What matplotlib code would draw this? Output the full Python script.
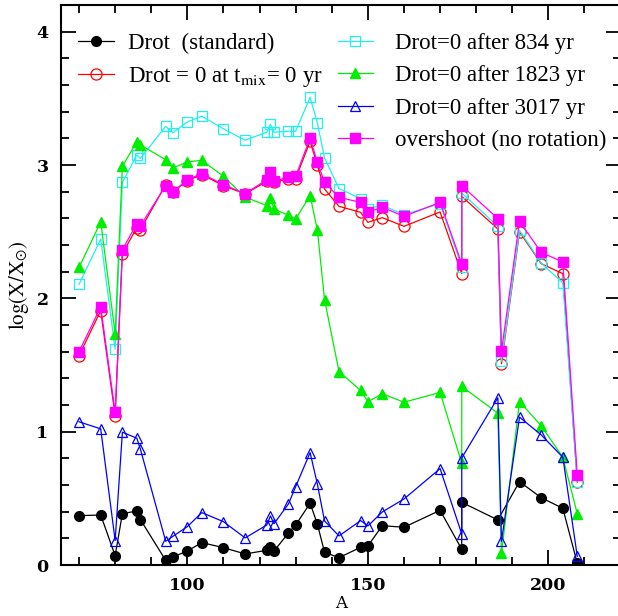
import numpy as np
import matplotlib
matplotlib.use('Agg')
import matplotlib.pyplot as plt
from matplotlib.ticker import MultipleLocator

plt.rcParams['mathtext.fontset'] = 'stix'

# mass numbers (s-only isotopes + Pb)
A = [70, 76, 80, 82, 86, 87, 94, 96, 100, 104, 110, 116, 122, 123, 124, 128, 130,
     134, 136, 138, 142, 148, 150, 154, 160, 170, 176, 176, 186, 187, 192, 198, 204, 208]
# standard run has no 187 point
A_std = [a for i, a in enumerate(A) if i != 29]

drot_std = [0.37, 0.375, 0.07, 0.385, 0.405, 0.34, 0.035, 0.06, 0.105, 0.168, 0.13, 0.083,
            0.11, 0.138, 0.105, 0.24, 0.30, 0.463, 0.308, 0.095, 0.055, 0.133, 0.143, 0.295,
            0.283, 0.41, 0.118, 0.47, 0.338, 0.625, 0.505, 0.425, 0.013]
drot_t0 = [1.571, 1.907, 1.119, 2.335, 2.53, 2.515, 2.853, 2.798, 2.883, 2.928, 2.845, 2.783,
           2.878, 2.90, 2.870, 2.898, 2.898, 3.178, 2.998, 2.82, 2.69, 2.645, 2.57, 2.605,
           2.54, 2.648, 2.185, 2.765, 2.52, 1.509, 2.498, 2.26, 2.185, 0.621]
drot_834 = [2.105, 2.445, 1.619, 2.87, 3.075, 3.05, 3.29, 3.241, 3.323, 3.366, 3.271, 3.186,
            3.246, 3.305, 3.246, 3.253, 3.253, 3.508, 3.316, 3.053, 2.823, 2.748, 2.673, 2.698,
            2.628, 2.71, 2.235, 2.79, 2.54, 1.527, 2.51, 2.265, 2.115, 0.626]
drot_1823 = [2.232, 2.573, 1.734, 2.99, 3.175, 3.15, 3.04, 2.978, 3.023, 3.035, 2.915, 2.76,
             2.695, 2.753, 2.67, 2.623, 2.595, 2.77, 2.515, 1.99, 1.451, 1.309, 1.224, 1.284,
             1.221, 1.294, 0.763, 1.339, 1.139, 0.088, 1.226, 1.044, 0.808, 0.383]
drot_3017 = [1.074, 1.021, 0.183, 0.996, 0.951, 0.868, 0.178, 0.215, 0.288, 0.393, 0.325, 0.203,
             0.30, 0.368, 0.31, 0.458, 0.588, 0.843, 0.608, 0.33, 0.218, 0.333, 0.293, 0.398,
             0.495, 0.723, 0.233, 0.803, 1.254, 0.178, 1.109, 0.976, 0.808, 0.065]
overshoot = [1.601, 1.935, 1.144, 2.365, 2.56, 2.545, 2.845, 2.798, 2.89, 2.935, 2.853, 2.785,
             2.89, 2.945, 2.878, 2.908, 2.915, 3.203, 3.02, 2.87, 2.757, 2.72, 2.645, 2.683,
             2.615, 2.72, 2.26, 2.845, 2.598, 1.602, 2.578, 2.345, 2.272, 0.676]

fig = plt.figure(figsize=(6.18, 6.16), dpi=100)
ax = fig.add_axes([61 / 618, 51 / 616, 559.6 / 618, 560 / 616])

lw = 0.9
l1, = ax.plot(A_std, drot_std, '-o', color='black', lw=lw, ms=7, mfc='black', mec='black')
l2, = ax.plot(A, drot_t0, '-o', color='red', lw=lw, ms=8, mfc='none', mec='red', mew=0.9)
l3, = ax.plot(A, drot_834, '-s', color='#20f0f0', lw=lw, ms=6.5, mfc='none', mec='#20f0f0', mew=0.9)
l4, = ax.plot(A, drot_1823, '-^', color='#00ee00', lw=lw, ms=7, mfc='#00ee00', mec='#00ee00')
l5, = ax.plot(A, drot_3017, '-^', color='blue', lw=lw, ms=7, mfc='none', mec='blue', mew=0.9)
l6, = ax.plot(A, overshoot, '-s', color='magenta', lw=lw, ms=6.5, mfc='magenta', mec='magenta')

ax.set_xlim(65, 220)
ax.set_ylim(0, 4.2)
ax.xaxis.set_major_locator(MultipleLocator(50))
ax.xaxis.set_minor_locator(MultipleLocator(10))
ax.yaxis.set_major_locator(MultipleLocator(1))
ax.yaxis.set_minor_locator(MultipleLocator(0.2))
ax.tick_params(which='both', direction='in', top=True, right=True, width=1.3)
ax.tick_params(which='major', length=11, labelsize=12.5, pad=9)
ax.tick_params(which='minor', length=6)
for lab in ax.get_xticklabels() + ax.get_yticklabels():
    lab.set_family('DejaVu Serif')
    lab.set_weight('bold')
for sp in ax.spines.values():
    sp.set_linewidth(1.5)

ax.set_xlabel('A', family='DejaVu Serif', fontsize=12, labelpad=0)
ax.set_ylabel(r'$\log(\mathrm{X}/\mathrm{X}_{\odot})$', fontsize=15, labelpad=4)

legfont = {'family': 'Liberation Serif', 'size': 16.5}
leg1 = ax.legend([l1, l2], ['Drot  (standard)', r'Drot = 0 at t$_{\mathrm{mix}}$= 0 yr'],
                 loc='upper left', bbox_to_anchor=(-0.018, 1.0), frameon=False, prop=legfont,
                 handlelength=1.55, handletextpad=0.6, labelspacing=0.5, borderaxespad=0.8)
ax.add_artist(leg1)
ax.legend([l3, l4, l5, l6], ['Drot=0 after 834 yr', 'Drot=0 after 1823 yr',
                             'Drot=0 after 3017 yr', 'overshoot (no rotation)'],
          loc='upper left', bbox_to_anchor=(0.445, 1.0), frameon=False, prop=legfont,
          handlelength=1.55, handletextpad=0.95, labelspacing=0.5, borderaxespad=0.8)

fig.savefig('out.png', dpi=100)
